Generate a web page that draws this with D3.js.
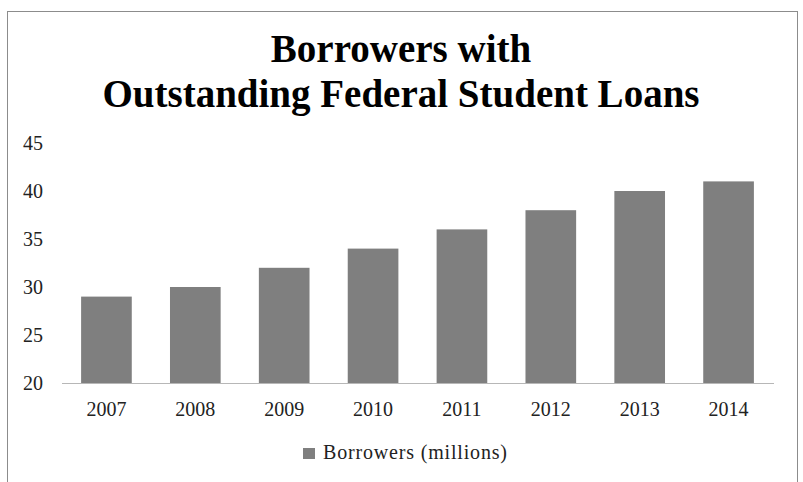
<!DOCTYPE html>
<html>
<head>
<meta charset="utf-8">
<script src="https://d3js.org/d3.v7.min.js"></script>
<style>
  body { margin: 0; background: #fff; }
</style>
</head>
<body>
<div id="chart"></div>
<script>
const width = 803;
const height = 482;
const serif = '"Liberation Serif", "Times New Roman", serif';

// data
const years = ['2007', '2008', '2009', '2010', '2011', '2012', '2013', '2014'];
const borrowers = [29, 30, 32, 34, 36, 38, 40, 41];
const yTicks = [20, 25, 30, 35, 40, 45];
const titleLines = ['Borrowers with', 'Outstanding Federal Student Loans'];
const seriesName = 'Borrowers (millions)';

const margin = { top: 143, right: 30, bottom: 99, left: 62 };

const svg = d3.select('#chart')
  .append('svg')
  .attr('width', width)
  .attr('height', height)
  .attr('font-family', serif);

// chart frame
svg.append('rect')
  .attr('x', 7.5)
  .attr('y', 11.5)
  .attr('width', 790)
  .attr('height', 490)
  .attr('fill', 'none')
  .attr('stroke', '#8c8c8c')
  .attr('stroke-width', 1);

// title
svg.append('g')
  .selectAll('text')
  .data(titleLines)
  .join('text')
  .attr('x', 401)
  .attr('y', (d, i) => 62 + i * 45)
  .attr('text-anchor', 'middle')
  .attr('font-size', 39)
  .attr('font-weight', 'bold')
  .attr('fill', '#000')
  .text(d => d);

const xScale = d3.scaleBand()
  .domain(years)
  .range([margin.left, width - margin.right])
  .paddingInner(0.43)
  .paddingOuter(0.215);

const yScale = d3.scaleLinear()
  .domain([20, 45])
  .range([height - margin.bottom, margin.top]);

// bars
svg.append('g')
  .selectAll('rect')
  .data(years)
  .join('rect')
  .attr('x', d => xScale(d))
  .attr('y', (d, i) => yScale(borrowers[i]))
  .attr('width', xScale.bandwidth())
  .attr('height', (d, i) => yScale(20) - yScale(borrowers[i]))
  .attr('fill', '#7f7f7f');

// x axis
const xAxis = svg.append('g')
  .attr('transform', `translate(0, ${yScale(20)})`)
  .call(d3.axisBottom(xScale).tickSize(0).tickPadding(0));
xAxis.attr('font-family', serif).attr('font-size', 20);
xAxis.select('.domain')
  .attr('stroke', '#6e6e6e')
  .attr('stroke-dasharray', '1,1');
xAxis.selectAll('text')
  .attr('dy', null)
  .attr('y', 33)
  .attr('fill', '#222');

// y axis labels only
const yAxis = svg.append('g')
  .attr('transform', `translate(43, 0)`)
  .call(d3.axisLeft(yScale).tickValues(yTicks).tickSize(0).tickPadding(0));
yAxis.attr('font-family', serif).attr('font-size', 20);
yAxis.select('.domain').remove();
yAxis.selectAll('text')
  .attr('fill', '#222');

// legend
const legend = svg.append('g').attr('transform', 'translate(303, 448)');
legend.append('rect')
  .attr('width', 12)
  .attr('height', 11)
  .attr('fill', '#7f7f7f');
legend.append('text')
  .attr('x', 20)
  .attr('y', 11)
  .attr('font-size', 20)
  .attr('fill', '#222')
  .attr('textLength', 184)
  .text(seriesName);
</script>
</body>
</html>
